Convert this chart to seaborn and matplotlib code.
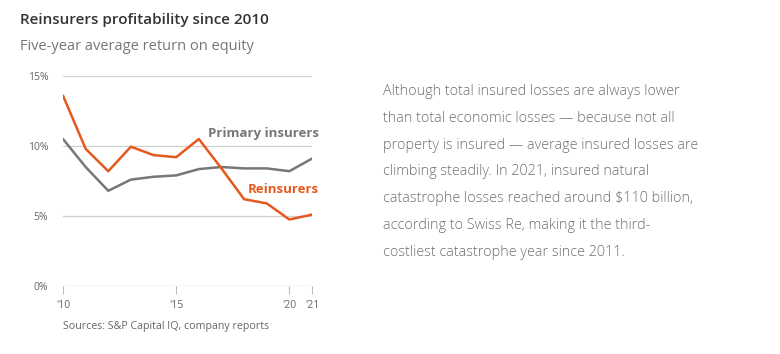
import numpy as np
import pandas as pd
import matplotlib
matplotlib.use('Agg')
import matplotlib.pyplot as plt
import seaborn as sns

# ==========================================
# Data (five-year average return on equity, %)
# ==========================================
years = [2010, 2011, 2012, 2013, 2014, 2015, 2016, 2017, 2018, 2019, 2020, 2021]
reinsurers = [13.6, 9.8, 8.2, 9.95, 9.35, 9.2, 10.5, 8.4, 6.2, 5.9, 4.75, 5.1]
primary = [10.5, 8.5, 6.8, 7.6, 7.8, 7.9, 8.35, 8.5, 8.4, 8.4, 8.2, 9.1]

tick_years = [2010, 2015, 2020, 2021]
tick_labels = ["'10", "'15", "'20", "'21"]
y_ticks = [0, 5, 10, 15]

body_text = ("Although total insured losses are always lower\n"
             "than total economic losses \u2014 because not all\n"
             "property is insured \u2014 average insured losses are\n"
             "climbing steadily. In 2021, insured natural\n"
             "catastrophe losses reached around $110 billion,\n"
             "according to Swiss Re, making it the third-\n"
             "costliest catastrophe year since 2011.")

df = pd.DataFrame({'year': years * 2,
                   'roe': reinsurers + primary,
                   'group': ['Reinsurers'] * len(years) + ['Primary insurers'] * len(years)})

# ==========================================
# Style
# ==========================================
sns.set_style('white')
plt.rcParams['font.family'] = ['Open Sans', 'DejaVu Sans']

ORANGE = '#E5591E'
GREY_LINE = '#76777A'
GRID = '#D0D0D0'
W, H = 780, 354

fig = plt.figure(figsize=(W / 100, H / 100), dpi=100)
ax = fig.add_axes([63 / W, 1 - 286 / H, (312 - 63) / W, (286 - 76) / H])

sns.lineplot(data=df, x='year', y='roe', hue='group',
             palette={'Reinsurers': ORANGE, 'Primary insurers': GREY_LINE},
             hue_order=['Primary insurers', 'Reinsurers'],
             linewidth=1.8, legend=False, ax=ax)

ax.set_xlim(2010, 2021)
ax.set_ylim(0, 15)
for v in [5, 10, 15]:
    ax.axhline(v, color=GRID, linewidth=0.9, zorder=0)
ax.axhline(0, color='#BBBBBB', linewidth=0.9, zorder=0)

for s in ax.spines.values():
    s.set_visible(False)

ax.set_xticks(tick_years)
ax.set_xticklabels(tick_labels, fontsize=7.5, color='#666666')
ax.tick_params(axis='x', length=6, width=0.8, color='#BBBBBB', pad=4, bottom=True)
ax.set_yticks(y_ticks)
ax.set_yticklabels([f'{v}%' for v in y_ticks], fontsize=7.5, color='#666666')
ax.tick_params(axis='y', length=0, pad=10.5)
ax.set_xlabel('')
ax.set_ylabel('')

# Inline series labels
ax.text(2021.3, 10.4, 'Primary insurers', color=GREY_LINE, fontsize=9.5,
        fontweight='bold', ha='right', va='bottom')
ax.text(2021.3, 6.45, 'Reinsurers', color=ORANGE, fontsize=9.5,
        fontweight='bold', ha='right', va='bottom')

# Titles and source
fig.text(20 / W, 1 - 20 / H, 'Reinsurers profitability since 2010', fontsize=11,
         color='#333333', fontweight='semibold', va='center')
fig.text(20 / W, 1 - 46 / H, 'Five-year average return on equity', fontsize=10.5,
         color='#777777', va='center')
fig.text(63 / W, 1 - 326 / H, 'Sources: S&P Capital IQ, company reports', fontsize=7.7,
         color='#666666', va='center')

# Side commentary
fig.text(383 / W, 1 - 84 / H, body_text, fontsize=10.4, color='#707070',
         va='top', ha='left', linespacing=2.07, fontweight='light')

fig.savefig('out.png', dpi=100)
